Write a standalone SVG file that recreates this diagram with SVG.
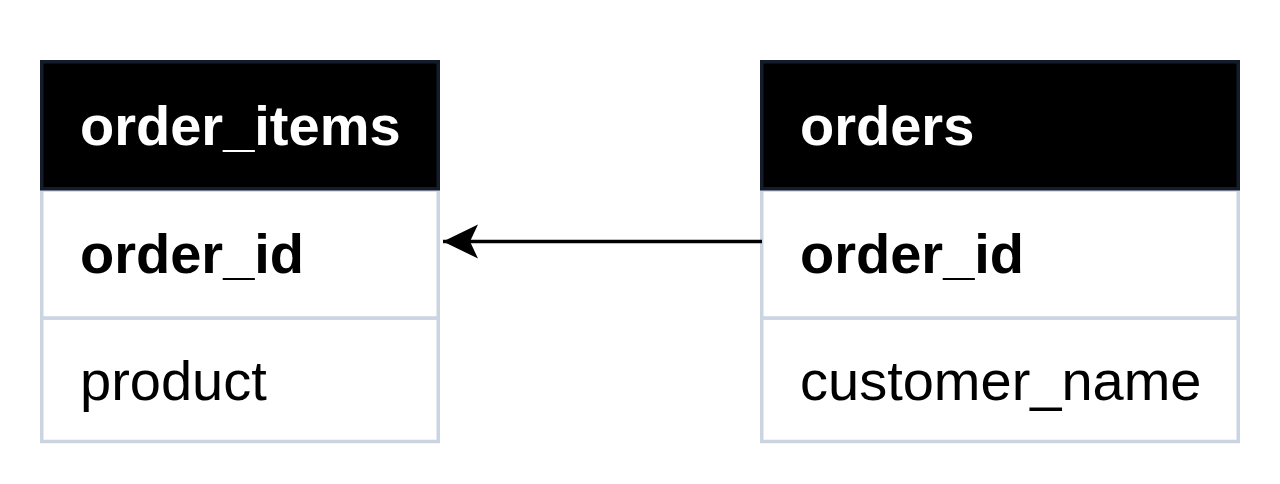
<svg xmlns="http://www.w3.org/2000/svg" width="1280" height="484" viewBox="0 0 1280 484">
  <style>
    .hdr { fill: #000000; stroke: #141c2c; stroke-width: 3.5; }
    .row { fill: #ffffff; stroke: #cbd5e1; stroke-width: 3.5; }
    .t { font-family: "Liberation Sans", Arial, sans-serif; font-size: 56px; }
    .th { fill: #ffffff; font-weight: bold; }
    .tk { fill: #000000; font-weight: bold; }
    .tn { fill: #000000; }
    .edge { stroke: #000000; stroke-width: 3.5; fill: none; }
  </style>
  <defs>
    <marker id="arrow" markerUnits="userSpaceOnUse" markerWidth="40" markerHeight="40" viewBox="0 0 40 40" refX="38" refY="20" orient="auto">
      <path d="M38 20 L3 3 L11 20 L3 37 Z" fill="#000000"/>
    </marker>
  </defs>
  <rect width="1280" height="484" fill="#ffffff"/>
  <g id="order_items">
    <rect class="row" x="41.75" y="318" width="396.5" height="123.5"/>
    <rect class="row" x="41.75" y="190" width="396.5" height="128"/>
    <rect class="hdr" x="41.75" y="61.75" width="396.5" height="127"/>
    <text class="t th" x="80" y="145">order_items</text>
    <text class="t tk" x="80" y="273">order_id</text>
    <text class="t tn" x="80" y="400">product</text>
  </g>
  <g id="orders">
    <rect class="row" x="761.75" y="318" width="476.5" height="123.5"/>
    <rect class="row" x="761.75" y="190" width="476.5" height="128"/>
    <rect class="hdr" x="761.75" y="61.75" width="476.5" height="127"/>
    <text class="t th" x="800" y="145">orders</text>
    <text class="t tk" x="800" y="273">order_id</text>
    <text class="t tn" x="800" y="400">customer_name</text>
  </g>
  <g id="connectors">
    <path class="edge" d="M762 241.5 L443 241.5" marker-end="url(#arrow)"/>
  </g>
</svg>
